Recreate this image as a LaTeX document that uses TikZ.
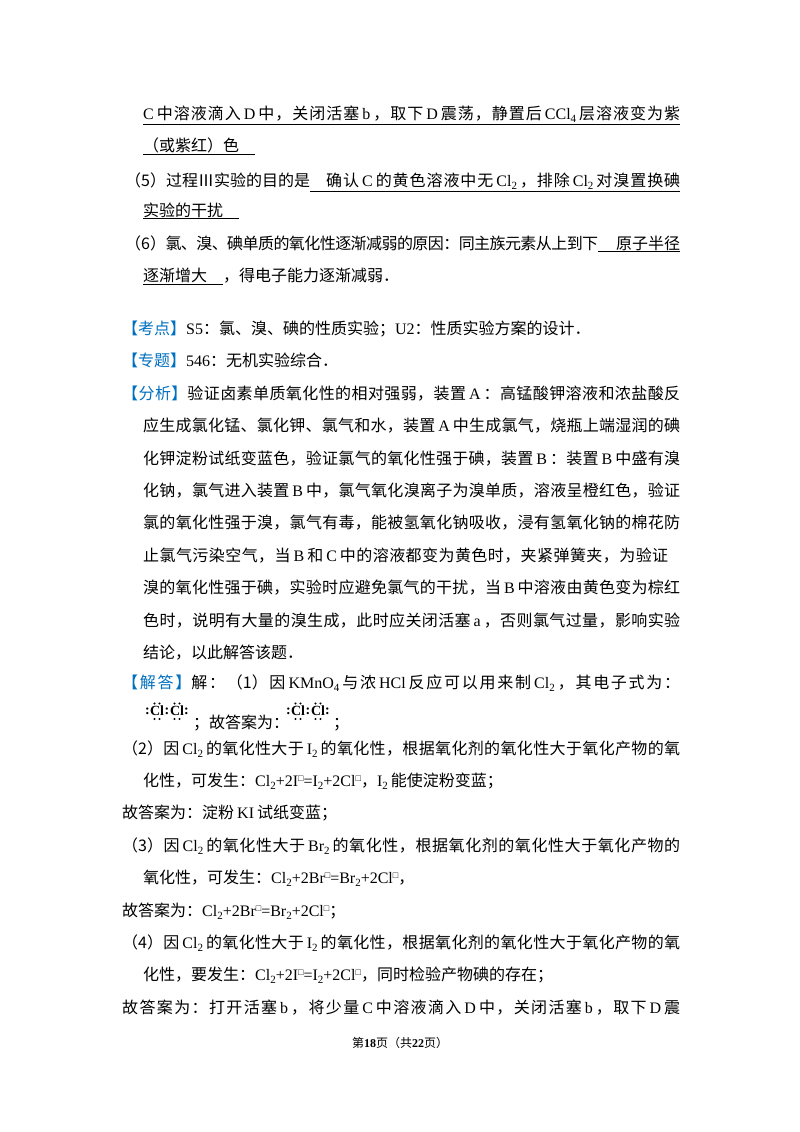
\documentclass[tikz,border=0pt]{standalone}
\usepackage{fontspec}
\setmainfont{Noto Sans CJK SC}
\newfontfamily\lat{Liberation Serif}
\XeTeXinterchartokenstate=1
\newXeTeXintercharclass\cjkcls
\newcount\cc
\cc="4E00 \loop \XeTeXcharclass\cc=\cjkcls \advance\cc1 \ifnum\cc<"A000 \repeat
\cc="3000 \loop \XeTeXcharclass\cc=\cjkcls \advance\cc1 \ifnum\cc<"3040 \repeat
\cc="FF00 \loop \XeTeXcharclass\cc=\cjkcls \advance\cc1 \ifnum\cc<"FFF0 \repeat
\XeTeXinterchartoks\cjkcls\cjkcls={\hskip0pt plus 1pt minus 0.6pt\relax}
\newcommand\e[1]{\kern3pt{\lat #1}\kern3pt}
\newcommand\f[1]{{\lat #1}}
\newcommand\sbs[1]{\raisebox{-3.5pt}{\fontsize{11}{11}\selectfont\lat #1}}
\newcommand\sps[1]{\raisebox{5pt}{\fontsize{9}{9}\selectfont □}}
\definecolor{kblue}{RGB}{0,112,192}
\newcommand\kb[1]{{\color{kblue}【#1】}}
\newcommand\JW[2]{\makebox[#1pt][s]{#2}}
\newcommand\lewisat[2]{\begin{scope}[shift={(#1,#2)}]
 \node[lw] at (1.5,0) {:}; \node[lw] at (11,0) {Cl}; \node[lw] at (21,0) {:};
 \node[lw] at (31,0) {Cl}; \node[lw] at (40.5,0) {:};
 \foreach \c in {11,31}{\foreach \d in {-2.5,2.5}{\fill (\c+\d,-7.5) circle (1.2); \fill (\c+\d,8) circle (1.2);}}
\end{scope}}
\begin{document}
\begin{tikzpicture}[x=1pt,y=-1pt,
 tl/.style={anchor=base west,inner sep=0pt,font=\fontsize{16}{16}\selectfont},
 lw/.style={inner sep=0pt,font=\fontsize{14}{14}\selectfont\lat\bfseries}]
\useasboundingbox[fill=white] (0,0) rectangle (800,1132);
\node[tl] (l1) at (143,119) {\underline{\JW{537}{\f{C}\kern3pt 中溶液滴入\e{D}中，关闭活塞\e{b}，取下\e{D}震荡，静置后\e{CCl\sbs{4}}层溶液变为紫}}};
\node[tl] (l2) at (143,151) {\underline{（或紫红）色\quad}};
\node[tl] (l3) at (125,186) {\JW{185}{（5）过程Ⅲ实验的目的是}};
\node[tl] (l3u) at (310,186) {\underline{\JW{370}{\quad 确认\e{C}的黄色溶液中无\e{Cl\sbs{2}}，排除\e{Cl\sbs{2}}对溴置换碘}}};
\node[tl] (l4) at (143,216) {\underline{实验的干扰\quad}};
\node[tl] (l5) at (125,249) {\JW{473}{（6）氯、溴、碘单质的氧化性逐渐减弱的原因：同主族元素从上到下}};
\node[tl] (l5u) at (598,249) {\underline{\JW{82}{\hfil 原子半径}}};
\node[tl] (l6) at (143,281) {\underline{逐渐增大\quad}，得电子能力逐渐减弱．};
\node[tl] (l7) at (122,334) {\kb{考点}\f{S5}：氯、溴、碘的性质实验；\f{U2}：性质实验方案的设计．};
\node[tl] (l8) at (122,366) {\kb{专题}\f{546}：无机实验综合．};
\node[tl] (l9) at (122,399) {\JW{558}{\kb{分析}验证卤素单质氧化性的相对强弱，装置\e{A}：高锰酸钾溶液和浓盐酸反}};
\node[tl] (l10) at (143,431) {\JW{537}{应生成氯化锰、氯化钾、氯气和水，装置\e{A}中生成氯气，烧瓶上端湿润的碘}};
\node[tl] (l11) at (143,464) {\JW{537}{化钾淀粉试纸变蓝色，验证氯气的氧化性强于碘，装置\e{B}：装置\e{B}中盛有溴}};
\node[tl] (l12) at (143,496) {\JW{537}{化钠，氯气进入装置\e{B}中，氯气氧化溴离子为溴单质，溶液呈橙红色，验证}};
\node[tl] (l13) at (143,528) {\JW{537}{氯的氧化性强于溴，氯气有毒，能被氢氧化钠吸收，浸有氢氧化钠的棉花防}};
\node[tl] (l14) at (143,561) {\JW{525}{止氯气污染空气，当\e{B}和\e{C}中的溶液都变为黄色时，夹紧弹簧夹，为验证}};
\node[tl] (l15) at (143,593) {\JW{537}{溴的氧化性强于碘，实验时应避免氯气的干扰，当\e{B}中溶液由黄色变为棕红}};
\node[tl] (l16) at (143,626) {\JW{537}{色时，说明有大量的溴生成，此时应关闭活塞\e{a}，否则氯气过量，影响实验}};
\node[tl] (l17) at (143,658) {结论，以此解答该题．};
\node[tl] (l18) at (122,688) {\JW{558}{\kb{解答}解：（1）因\e{KMnO\sbs{4}}与浓\e{HCl}反应可以用来制\e{Cl\sbs{2}}，其电子式为：}};
\lewisat{146}{711}
\node[tl] (l19) at (193,728) {；故答案为：};
\lewisat{287}{711}
\node[tl] (l19b) at (333,728) {；};
\node[tl] (l20) at (122,754) {\JW{558}{（2）因\e{Cl\sbs{2}}的氧化性大于\e{I\sbs{2}}的氧化性，根据氧化剂的氧化性大于氧化产物的氧}};
\node[tl] (l21) at (143,786) {化性，可发生：\f{Cl\sbs{2}+2I\sps{}=I\sbs{2}+2Cl\sps{}}，\f{I\sbs{2}}\kern3pt 能使淀粉变蓝；};
\node[tl] (l22) at (122,818) {故答案为：淀粉\e{KI}试纸变蓝；};
\node[tl] (l23) at (122,851) {\JW{558}{（3）因\e{Cl\sbs{2}}的氧化性大于\e{Br\sbs{2}}的氧化性，根据氧化剂的氧化性大于氧化产物的}};
\node[tl] (l24) at (143,883) {氧化性，可发生：\f{Cl\sbs{2}+2Br\sps{}=Br\sbs{2}+2Cl\sps{}}，};
\node[tl] (l25) at (122,916) {故答案为：\f{Cl\sbs{2}+2Br\sps{}=Br\sbs{2}+2Cl\sps{}}；};
\node[tl] (l26) at (122,948) {\JW{558}{（4）因\e{Cl\sbs{2}}的氧化性大于\e{I\sbs{2}}的氧化性，根据氧化剂的氧化性大于氧化产物的氧}};
\node[tl] (l27) at (143,980) {化性，要发生：\f{Cl\sbs{2}+2I\sps{}=I\sbs{2}+2Cl\sps{}}，同时检验产物碘的存在；};
\node[tl] (l28) at (122,1013) {\JW{558}{故答案为：打开活塞\e{b}，将少量\e{C}中溶液滴入\e{D}中，关闭活塞\e{b}，取下\e{D}震}};
\node[inner sep=0pt,font=\fontsize{12}{12}\selectfont] (ft) at (400,1043) {第\textbf{\f{18}}页（共\textbf{\f{22}}页）};
\end{tikzpicture}
\end{document}
